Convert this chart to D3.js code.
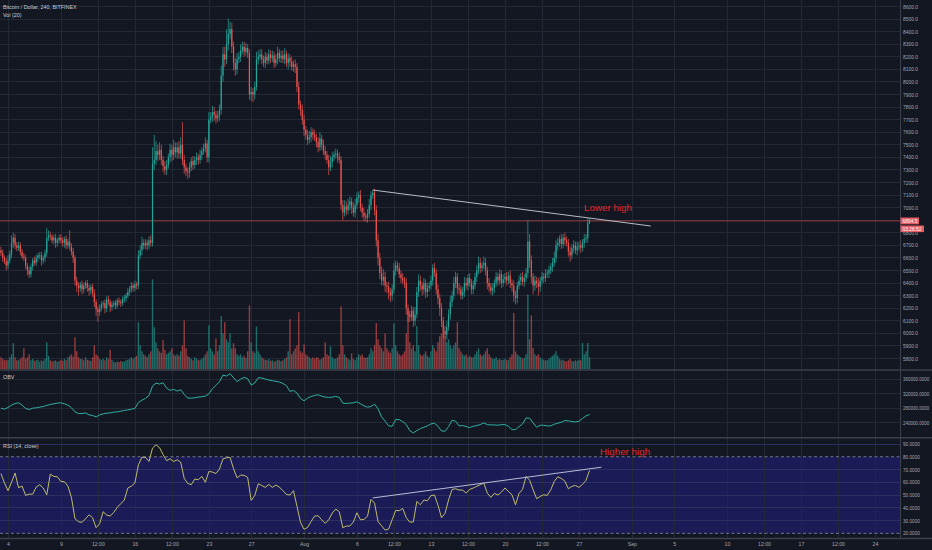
<!DOCTYPE html>
<html>
<head>
<meta charset="utf-8">
<script src="https://cdn.jsdelivr.net/npm/d3@7"></script>
<style>
  body { margin: 0; background: #131722; }
  svg { display: block; font-family: "Liberation Sans", Arial, sans-serif; }
</style>
</head>
<body>
<div id="chart"></div>
<script>
// ---- data ----
// 4h candles, first one is Jul 3 08:00 UTC, open of each candle = previous close
var firstOpen = 6660;
var closes = [
  6640, 6600, 6570, 6540,                 // Jul 3 (08:00-20:00)
  6580, 6630, 6720, 6760, 6700, 6680,     // Jul 4
  6700, 6650, 6610, 6600, 6540, 6500,     // Jul 5
  6470, 6530, 6580, 6560, 6600, 6620,     // Jul 6
  6620, 6580, 6600, 6640, 6760, 6780,     // Jul 7
  6770, 6740, 6760, 6720, 6740, 6760,     // Jul 8
  6740, 6720, 6750, 6700, 6730, 6690,     // Jul 9
  6650, 6600, 6420, 6380, 6360, 6390,     // Jul 10
  6350, 6380, 6400, 6360, 6340, 6370,     // Jul 11
  6320, 6250, 6190, 6170, 6200, 6230,     // Jul 12
  6240, 6200, 6270, 6250, 6210, 6230,     // Jul 13
  6240, 6220, 6260, 6250, 6240, 6270,     // Jul 14
  6280, 6300, 6330, 6350, 6380, 6360,     // Jul 15
  6390, 6380, 6620, 6660, 6720, 6700,     // Jul 16
  6720, 6700, 6740, 6720, 7350, 7380,     // Jul 17
  7450, 7420, 7460, 7380, 7330, 7300,     // Jul 18
  7340, 7400, 7460, 7420, 7480, 7440,     // Jul 19
  7480, 7430, 7500, 7380, 7320, 7290,     // Jul 20
  7280, 7320, 7370, 7340, 7380, 7400,     // Jul 21
  7380, 7420, 7450, 7470, 7510, 7400,     // Jul 22
  7700, 7720, 7760, 7740, 7710, 7730,     // Jul 23
  7780, 8050, 8220, 8180, 8300, 8380,     // Jul 24
  8420, 8280, 8150, 8100, 8180, 8200,     // Jul 25
  8250, 8280, 8240, 8270, 8230, 7900,     // Jul 26
  7920, 7900, 7960, 8180, 8200, 8220,     // Jul 27
  8180, 8150, 8200, 8170, 8220, 8190,     // Jul 28
  8210, 8150, 8180, 8230, 8190, 8210,     // Jul 29
  8180, 8220, 8150, 8190, 8160, 8120,     // Jul 30
  8140, 8120, 7960, 7820, 7780, 7700,     // Jul 31
  7620, 7580, 7540, 7560, 7600, 7580,     // Aug 1
  7560, 7520, 7480, 7550, 7500, 7450,     // Aug 2
  7420, 7380, 7320, 7360, 7400, 7420,     // Aug 3
  7430, 7400, 7380, 7020, 6960, 7010,     // Aug 4
  6980, 7020, 7050, 7000, 6960, 7020,     // Aug 5
  7080, 7100, 7000, 6960, 6930, 6920,     // Aug 6
  6950, 7020, 7100, 7120, 6980, 6740,     // Aug 7
  6600, 6480, 6420, 6450, 6380, 6370,     // Aug 8
  6330, 6300, 6350, 6500, 6540, 6520,     // Aug 9
  6470, 6440, 6420, 6400, 6200, 6150,     // Aug 10
  6130, 6180, 6100, 6150, 6330, 6420,     // Aug 11
  6380, 6350, 6400, 6330, 6360, 6380,     // Aug 12
  6420, 6520, 6480, 6350, 6280, 6200,     // Aug 13
  6100, 6020, 5990, 6050, 6150, 6250,     // Aug 14
  6300, 6400, 6450, 6360, 6350, 6300,     // Aug 15
  6330, 6400, 6380, 6440, 6400, 6350,     // Aug 16
  6380, 6450, 6500, 6560, 6520, 6540,     // Aug 17
  6560, 6500, 6400, 6370, 6340, 6360,     // Aug 18
  6400, 6450, 6420, 6470, 6400, 6430,     // Aug 19
  6450, 6420, 6460, 6400, 6380, 6300,     // Aug 20
  6280, 6380, 6420, 6450, 6410, 6440,     // Aug 21
  6480, 6730, 6580, 6450, 6380, 6420,     // Aug 22
  6400, 6370, 6420, 6450, 6440, 6470,     // Aug 23
  6480, 6500, 6530, 6560, 6600, 6700,     // Aug 24
  6720, 6750, 6710, 6760, 6740, 6720,     // Aug 25
  6650, 6620, 6680, 6700, 6660, 6690,     // Aug 26
  6700, 6680, 6720, 6750, 6760, 6880,     // Aug 27
  6894.5                                  // Aug 28 00:00
];
// wick lengths above the body / below the body (price units)
var wickUp = [
  30, 25, 20, 30,
  40, 30, 60, 40, 30, 25,   30, 25, 20, 30, 25, 20,   30, 25, 20, 30, 25, 20,
  25, 30, 20, 25, 80, 40,   30, 20, 25, 30, 20, 25,   30, 25, 20, 30, 25, 90,
  25, 30, 20, 30, 25, 20,   30, 25, 20, 25, 30, 20,   25, 30, 20, 25, 30, 25,
  20, 30, 25, 30, 20, 25,   20, 25, 20, 25, 20, 25,   25, 20, 30, 25, 30, 20,
  30, 20, 40, 40, 50, 30,   30, 25, 30, 40, 130, 200, 80, 50, 60, 40, 30, 40,
  40, 30, 50, 40, 60, 40,   40, 50, 60, 180, 40, 30,  30, 40, 30, 40, 30, 40,
  30, 40, 30, 40, 50, 30,   60, 40, 50, 40, 30, 40,   40, 80, 60, 60, 120, 125,
  60, 50, 40, 40, 50, 40,   50, 40, 40, 40, 30, 30,   40, 30, 40, 60, 50, 40,
  40, 30, 40, 30, 40, 30,   40, 30, 40, 50, 30, 40,   40, 50, 30, 40, 30, 40,
  30, 40, 30, 40, 30, 40,   40, 30, 40, 50, 40, 30,   40, 30, 40, 50, 30, 40,
  40, 30, 40, 50, 40, 30,   40, 30, 40, 30, 40, 50,   40, 50, 40, 30, 40, 50,
  40, 30, 40, 30, 40, 30,   40, 50, 30, 20, 30, 40,   50, 40, 50, 60, 40, 30,
  40, 30, 40, 60, 40, 30,   40, 30, 40, 30, 40, 30,   30, 40, 30, 60, 40, 50,
  40, 30, 40, 30, 40, 30,   40, 30, 40, 30, 40, 30,   40, 30, 40, 50, 40, 50,
  40, 50, 40, 30, 40, 30,   40, 50, 40, 30, 40, 30,   40, 30, 40, 50, 40, 30,
  50, 40, 30, 40, 30, 40,   30, 40, 30, 40, 30, 40,   30, 40, 30, 40, 30, 40,
  40, 30, 40, 30, 40, 30,   40, 170, 60, 40, 30, 40,  30, 40, 30, 40, 30, 40,
  30, 40, 30, 40, 50, 40,   40, 30, 40, 30, 40, 30,   30, 40, 30, 40, 30, 40,
  30, 40, 30, 40, 30, 35,
  20
];
var wickDn = [
  25, 30, 20, 40,
  30, 25, 30, 40, 30, 25,   25, 30, 20, 25, 30, 40,   30, 25, 30, 20, 25, 30,
  30, 40, 25, 30, 30, 25,   30, 25, 30, 40, 30, 25,   25, 30, 40, 30, 25, 30,
  30, 40, 40, 50, 60, 30,   40, 30, 25, 30, 40, 30,   30, 40, 50, 80, 30, 25,
  30, 40, 30, 25, 40, 30,   25, 30, 20, 25, 30, 20,   25, 30, 20, 30, 25, 30,
  25, 30, 30, 30, 40, 30,   30, 40, 30, 30, 30, 50,   40, 50, 40, 40, 50, 40,
  40, 30, 40, 50, 40, 40,   50, 40, 40, 40, 50, 40,   50, 40, 30, 40, 30, 40,
  40, 30, 40, 30, 30, 40,   40, 30, 40, 50, 40, 30,   40, 40, 50, 60, 40, 50,
  40, 50, 60, 50, 40, 30,   40, 30, 40, 30, 40, 40,   50, 60, 40, 30, 40, 30,
  40, 30, 40, 30, 30, 40,   30, 40, 30, 40, 30, 40,   30, 40, 30, 50, 40, 30,
  40, 50, 40, 40, 50, 40,   50, 40, 40, 30, 40, 40,   30, 40, 40, 30, 40, 30,
  40, 30, 60, 30, 40, 30,   30, 40, 30, 40, 60, 30,   40, 30, 40, 50, 30, 40,
  30, 40, 30, 40, 40, 30,   40, 30, 40, 30, 40, 50,   60, 50, 40, 40, 50, 50,
  60, 50, 40, 30, 40, 30,   30, 40, 30, 40, 50, 60,   40, 30, 50, 40, 30, 40,
  40, 50, 40, 50, 40, 30,   30, 40, 30, 40, 50, 60,   50, 60, 30, 40, 30, 40,
  40, 30, 40, 50, 40, 30,   30, 40, 30, 40, 30, 40,   40, 30, 40, 30, 40, 30,
  30, 40, 50, 40, 30, 40,   40, 30, 40, 30, 40, 30,   30, 40, 30, 40, 50, 50,
  50, 40, 30, 40, 30, 40,   30, 40, 60, 50, 70, 40,   40, 70, 40, 30, 40, 30,
  30, 40, 30, 40, 30, 40,   40, 30, 40, 30, 40, 30,   40, 50, 30, 40, 30, 40,
  30, 40, 30, 40, 30, 40,
  10
];
// volume per candle (thousand BTC)
var volumes = [
  4, 3.5, 3, 3.2,
  3, 4, 5, 8.7, 4, 3,          3, 3.5, 4, 7, 3.5, 4,        5, 3, 3.5, 2.8, 3, 3.2,
  2.5, 3, 2.8, 3.5, 9, 4.5,    3, 2.6, 2.8, 3, 2.5, 2.7,    3.2, 2.8, 3.5, 3, 4, 4.5,
  5, 4.2, 10.7, 6, 4, 3.5,     3.5, 3, 4, 3.2, 3, 2.8,      4, 8, 5, 4.5, 3.5, 3,
  3.5, 3, 4, 3.5, 6.5, 3.2,    2.5, 2.2, 2.6, 2.4, 2.8, 2.5, 2.6, 3, 3.2, 3.5, 4, 3.5,
  4, 4.5, 15.7, 8, 6, 5,       4.5, 4, 5, 6, 30, 14,        9, 7, 6, 5.5, 9.7, 6.5,
  5, 5.5, 6, 7, 5, 4.5,        5, 4.5, 6, 8, 16.3, 7,       4.5, 4, 3.5, 3, 4, 3.5,
  3, 3.2, 3.5, 4, 5, 6,        14.7, 7, 6, 5, 10.3, 6,      8, 17.7, 12, 15.7, 10, 9,
  12, 7, 8.7, 7, 5, 4.5,       5, 4, 4.5, 3.8, 6, 21.3,     9, 6, 5.5, 14.3, 6, 5,
  4, 3.5, 3.2, 3, 3.5, 2.8,    3, 2.5, 2.8, 3.2, 3, 2.7,    3, 3.5, 4, 6, 16.7, 5,
  6, 7, 8, 19, 6, 5.5,         8.3, 5, 4.5, 4, 3.5, 4,      3.5, 4, 3.8, 3.2, 3.5, 4,
  9, 5, 4.5, 7.7, 4, 3.5,      3.5, 4, 5, 21, 8, 5,         4, 3.5, 3, 5.3, 3.5, 3,
  4, 5, 4.5, 5, 4, 3.8,        4, 5, 7, 6, 8, 15.4,         10, 8, 7, 6, 12, 7,
  6, 5.5, 7, 15.3, 8, 6,       5, 4.5, 5, 6, 12, 18.7,      9, 7, 8, 6, 14.4, 8,
  5, 4.5, 5, 6, 4.5, 4,        6, 8, 7, 6, 9, 11,           12, 13, 11, 9, 10, 8,
  7, 8, 9, 15.7, 7, 6,         5, 4.5, 5, 4, 4.5, 4,        4, 5, 6, 7, 5, 4.5,
  5, 6, 7, 5, 4, 3.5,          3.5, 4, 3.2, 3.5, 3, 3.2,    3.5, 3, 3.2, 4, 5, 18.8,
  6, 5, 4.5, 4, 3.5, 3.8,      5, 25, 10, 18, 7, 5,         4.5, 5, 4, 3.5, 3.2, 3,
  3, 3.5, 4, 4.5, 5, 6,        4.5, 3.5, 3, 3.2, 2.8, 2.6,  3, 3.5, 2.8, 2.6, 3, 2.8,
  3.2, 3, 8.8, 5, 6, 8.8,
  4
];
// OBV, one reading every 8h from Jul 3 08:00
var obvValues = [
  279900, 277200, 281800, 288200, 292800, 294600, 288200, 279000, 276200, 279900,
  280800, 282700, 284500, 287300, 290000, 291900, 293700, 294600, 291900, 288200,
  280800, 269800, 265200, 265200, 267000, 261500, 259700, 256000, 261500, 264300,
  266100, 267000, 268900, 269800, 271600, 273500, 275300, 277200, 279000, 295500,
  302000, 306600, 314900, 340600, 348900, 346100, 349800, 335100, 328700, 331400,
  326800, 330500, 317600, 307500, 307500, 308400, 310300, 311200, 313000, 319500,
  333300, 342500, 352600, 371000, 368200, 374600, 363600, 352600, 359900, 364500,
  360800, 343400, 348900, 363600, 362700, 359900, 357200, 355300, 353500, 351600,
  348000, 341500, 325900, 328700, 321300, 306600, 300100, 307500, 312100, 314900,
  316700, 313000, 310300, 309300, 310300, 312100, 309300, 293700, 292800, 293700,
  294600, 297400, 291900, 286300, 282700, 284500, 290900, 278100, 256000, 244000,
  231200, 230200, 248600, 248600, 243100, 234800, 218300, 211900, 218300, 223800,
  227500, 231200, 236700, 238500, 230200, 217400, 216500, 229300, 246800, 244000,
  231200, 232100, 229300, 226600, 230200, 232100, 234800, 239400, 234800, 233900,
  233900, 233000, 234800, 234800, 230200, 221100, 221100, 229300, 236700, 253200,
  252300, 239400, 227500, 233000, 233000, 231200, 231200, 235800, 238500, 241300,
  245900, 245000, 243100, 242200, 244000, 251400, 258800, 262400
];
// RSI(14), one reading every 8h from Jul 3 08:00
var rsiValues = [
  66.9, 59.4, 53.4, 60.0, 67.2, 55.7, 57.0, 49.7, 50.7, 50.7,
  56.2, 58.1, 55.5, 50.2, 66.4, 64.6, 64.3, 60.7, 60.4, 57.0,
  48.1, 31.4, 29.1, 28.6, 31.4, 34.5, 32.2, 24.4, 27.5, 36.9,
  34.3, 33.5, 36.4, 40.3, 43.2, 46.1, 55.5, 57.0, 59.4, 73.7,
  79.7, 79.5, 76.3, 86.8, 89.4, 87.1, 81.8, 76.9, 78.4, 76.3,
  77.6, 75.8, 63.0, 59.1, 58.1, 62.5, 62.0, 64.6, 60.0, 68.5,
  68.0, 66.9, 70.3, 78.4, 79.2, 79.5, 70.6, 63.5, 65.6, 65.4,
  63.8, 45.8, 49.5, 58.8, 57.5, 56.0, 58.3, 56.0, 57.8, 56.2,
  53.4, 50.5, 50.0, 53.4, 41.1, 28.6, 23.1, 24.6, 29.3, 33.5,
  33.8, 30.6, 27.8, 30.6, 35.9, 39.0, 36.9, 24.4, 25.7, 25.7,
  28.8, 36.1, 30.6, 30.9, 33.3, 46.6, 43.7, 29.1, 25.9, 22.5,
  23.3, 30.6, 38.0, 37.7, 39.5, 32.2, 28.8, 28.8, 45.0, 42.4,
  46.1, 45.5, 49.5, 50.0, 42.1, 32.2, 35.6, 46.1, 54.4, 54.9,
  53.9, 53.9, 51.5, 54.4, 55.5, 56.8, 58.1, 59.4, 51.5, 48.1,
  51.3, 50.0, 52.3, 55.5, 52.8, 50.2, 42.4, 51.3, 54.4, 64.6,
  61.5, 54.1, 47.1, 48.9, 50.2, 49.7, 54.1, 60.7, 64.3, 63.0,
  60.9, 54.9, 56.8, 57.5, 56.0, 58.3, 61.5, 69.3
];
// drawn trend lines
var priceTrendDates = ["2018-08-07T12:00:00Z", "2018-09-02T19:00:00Z"];
var priceTrendValues = [7140, 6854];
var rsiTrendDates = ["2018-08-07T12:00:00Z", "2018-08-29T03:00:00Z"];
var rsiTrendValues = [47.7, 71.8];

// axes
var timeTicks = ["2018-07-04", "2018-07-09", "2018-07-12T12:00", "2018-07-16", "2018-07-19T12:00",
  "2018-07-23", "2018-07-27", "2018-08-01", "2018-08-06", "2018-08-09T12:00", "2018-08-13",
  "2018-08-16T12:00", "2018-08-20", "2018-08-23T12:00", "2018-08-27", "2018-09-01", "2018-09-05",
  "2018-09-10", "2018-09-13T12:00", "2018-09-17", "2018-09-20T12:00", "2018-09-24"];
var timeLabels = ["4", "9", "12:00", "16", "12:00", "23", "27", "Aug", "6", "12:00", "13",
  "12:00", "20", "12:00", "27", "Sep", "5", "10", "12:00", "17", "12:00", "24"];
var priceTicks = [5800, 5900, 6000, 6100, 6200, 6300, 6400, 6500, 6600, 6700, 6800, 6900, 7000,
  7100, 7200, 7300, 7400, 7500, 7600, 7700, 7800, 7900, 8000, 8100, 8200, 8300, 8400, 8500, 8600];
var obvTicks = [240000, 280000, 320000, 360000];
var rsiTicks = [20, 30, 40, 50, 60, 70, 80, 90];
var lastPrice = 6894.5;
var countdown = "03:26:52";

// ---- layout ----
var W = 932, H = 550, axisX = 900;
var bg = "#131722", grid = "#232835", sep = "#3c404b", axisText = "#a3a6af";
var up = "#26a69a", down = "#ef5350";

var svg = d3.select("#chart").append("svg")
    .attr("width", W)
    .attr("height", H);
svg.append("rect").attr("width", W).attr("height", H).attr("fill", bg);

var parseT = function (s) { return new Date(s.length > 10 ? s + (s.length === 16 ? ":00Z" : "") : s + "T00:00:00Z"); };
var tickDates = timeTicks.map(parseT);

// time scale, price/volume/obv/rsi scales
var x = d3.scaleUtc()
    .domain([new Date(Date.UTC(2018, 6, 4)), new Date(Date.UTC(2018, 8, 24))])
    .range([8, 875]);
var yPrice = d3.scaleLinear().domain([5800, 8600]).range([358.5, 6.5]);
var yVol = d3.scaleLinear().domain([0, 30]).range([369.3, 279.3]);
var yObv = d3.scaleLinear().domain([240000, 360000]).range([422.7, 379]);
var yRsi = d3.scaleLinear().domain([20, 90]).range([533.3, 444]);

var t0 = Date.UTC(2018, 6, 3, 8);
var H4 = 4 * 3600 * 1000, H8 = 8 * 3600 * 1000;
var candles = closes.map(function (c, i) {
  var o = i === 0 ? firstOpen : closes[i - 1];
  return {
    t: new Date(t0 + i * H4), o: o, c: c,
    h: Math.max(o, c) + wickUp[i], l: Math.min(o, c) - wickDn[i], v: volumes[i]
  };
});
var obv = obvValues.map(function (v, j) { return { t: new Date(t0 + j * H8), v: v }; });
var rsi = rsiValues.map(function (v, j) { return { t: new Date(t0 + j * H8), v: v }; });

// clip regions for the three panes
var defs = svg.append("defs");
[["clipMain", 0, 0, axisX, 369.5], ["clipObv", 0, 371, axisX, 66], ["clipRsi", 0, 439, axisX, 99]]
  .forEach(function (c) {
    defs.append("clipPath").attr("id", c[0]).append("rect")
      .attr("x", c[1]).attr("y", c[2]).attr("width", c[3]).attr("height", c[4]);
  });

// RSI band between 20 and 80
svg.append("rect")
    .attr("x", 0).attr("width", axisX)
    .attr("y", yRsi(80)).attr("height", yRsi(20) - yRsi(80))
    .attr("fill", "#1b1c57");

// grids
var gGrid = svg.append("g").attr("stroke", grid).attr("stroke-width", 1).attr("shape-rendering", "crispEdges");
gGrid.selectAll(".vg").data(tickDates).enter().append("line")
    .attr("x1", function (d) { return Math.round(x(d)) + 0.5; })
    .attr("x2", function (d) { return Math.round(x(d)) + 0.5; })
    .attr("y1", 0).attr("y2", 538);
gGrid.selectAll(".pg").data(priceTicks).enter().append("line")
    .attr("x1", 0).attr("x2", axisX)
    .attr("y1", function (d) { return yPrice(d); }).attr("y2", function (d) { return yPrice(d); });
gGrid.selectAll(".og").data(obvTicks).enter().append("line")
    .attr("x1", 0).attr("x2", axisX)
    .attr("y1", function (d) { return yObv(d); }).attr("y2", function (d) { return yObv(d); });
gGrid.selectAll(".rg").data(rsiTicks.filter(function (d) { return d !== 20 && d !== 80; })).enter().append("line")
    .attr("x1", 0).attr("x2", axisX)
    .attr("stroke", "#2c2f60")
    .attr("y1", function (d) { return yRsi(d); }).attr("y2", function (d) { return yRsi(d); });

// RSI 80 / 20 dashed bounds
svg.selectAll(".rb").data([80, 20]).enter().append("line")
    .attr("x1", 0).attr("x2", axisX)
    .attr("y1", function (d) { return yRsi(d); }).attr("y2", function (d) { return yRsi(d); })
    .attr("stroke", "#8a8da0").attr("stroke-width", 0.8).attr("stroke-dasharray", "3,2.5");

// ---- main pane ----
var main = svg.append("g").attr("clip-path", "url(#clipMain)");

// volume
main.selectAll(".vol").data(candles).enter().append("rect")
    .attr("x", function (d) { return x(d.t) - 0.7; })
    .attr("width", 1.4)
    .attr("y", function (d) { return yVol(d.v); })
    .attr("height", function (d) { return yVol(0) - yVol(d.v); })
    .attr("fill", function (d) { return d.c >= d.o ? up : down; })
    .attr("opacity", 0.6);

// last price line
main.append("line")
    .attr("x1", 0).attr("x2", axisX)
    .attr("y1", yPrice(lastPrice)).attr("y2", yPrice(lastPrice))
    .attr("stroke", down).attr("stroke-width", 1).attr("opacity", 0.55);

// candles
main.selectAll(".wick").data(candles).enter().append("line")
    .attr("x1", function (d) { return x(d.t); })
    .attr("x2", function (d) { return x(d.t); })
    .attr("y1", function (d) { return yPrice(d.h); })
    .attr("y2", function (d) { return yPrice(d.l); })
    .attr("stroke", function (d) { return d.c >= d.o ? up : down; })
    .attr("stroke-width", 0.7);
main.selectAll(".body").data(candles).enter().append("rect")
    .attr("x", function (d) { return x(d.t) - 0.6; })
    .attr("width", 1.2)
    .attr("y", function (d) { return yPrice(Math.max(d.o, d.c)); })
    .attr("height", function (d) { return Math.max(0.8, Math.abs(yPrice(d.o) - yPrice(d.c))); })
    .attr("fill", function (d) { return d.c >= d.o ? up : down; });

// price trend line
main.append("line")
    .attr("x1", x(parseT(priceTrendDates[0]))).attr("y1", yPrice(priceTrendValues[0]))
    .attr("x2", x(parseT(priceTrendDates[1]))).attr("y2", yPrice(priceTrendValues[1]))
    .attr("stroke", "#b9bcc6").attr("stroke-width", 1);

main.append("text")
    .attr("x", 584).attr("y", 211)
    .attr("fill", "#e0282e").attr("font-size", 9.8)
    .text("Lower high");

// ---- OBV pane ----
svg.append("g").attr("clip-path", "url(#clipObv)")
  .append("path")
    .datum(obv)
    .attr("fill", "none")
    .attr("stroke", "#2fb0a5")
    .attr("stroke-width", 1)
    .attr("d", d3.line().x(function (d) { return x(d.t); }).y(function (d) { return yObv(d.v); }));

// ---- RSI pane ----
var rsiG = svg.append("g").attr("clip-path", "url(#clipRsi)");
rsiG.append("path")
    .datum(rsi)
    .attr("fill", "none")
    .attr("stroke", "#cfcd6c")
    .attr("stroke-width", 0.9)
    .attr("d", d3.line().x(function (d) { return x(d.t); }).y(function (d) { return yRsi(d.v); }));
rsiG.append("line")
    .attr("x1", x(parseT(rsiTrendDates[0]))).attr("y1", yRsi(rsiTrendValues[0]))
    .attr("x2", x(parseT(rsiTrendDates[1]))).attr("y2", yRsi(rsiTrendValues[1]))
    .attr("stroke", "#b9bcd6").attr("stroke-width", 1);
svg.append("text")
    .attr("x", 600).attr("y", 455)
    .attr("fill", "#e0282e").attr("font-size", 9.8)
    .text("Higher high");

// ---- pane separators ----
var sepG = svg.append("g").attr("stroke", sep).attr("stroke-width", 1.5);
[370, 437.8, 538.5].forEach(function (yy) {
  sepG.append("line").attr("x1", 0).attr("x2", W).attr("y1", yy).attr("y2", yy);
});
sepG.append("line").attr("x1", axisX + 0.5).attr("x2", axisX + 0.5)
    .attr("y1", 0).attr("y2", 538.5).attr("stroke-width", 1);

// ---- axes ----
function styleAxis(size) {
  return function (g) {
    g.select(".domain").remove();
    g.selectAll("text").attr("fill", axisText).attr("font-size", size)
      .attr("font-family", "Liberation Sans, Arial, sans-serif");
  };
}
svg.append("g")
    .attr("transform", "translate(" + axisX + ",0)")
    .call(d3.axisRight(yPrice).tickValues(priceTicks).tickSize(0).tickPadding(3).tickFormat(d3.format(".1f")))
    .call(styleAxis(4.9));
svg.append("g")
    .attr("transform", "translate(" + axisX + ",0)")
    .call(d3.axisRight(yObv).tickValues(obvTicks).tickSize(0).tickPadding(3).tickFormat(d3.format(".4f")))
    .call(styleAxis(4.5));
svg.append("g")
    .attr("transform", "translate(" + axisX + ",0)")
    .call(d3.axisRight(yRsi).tickValues(rsiTicks).tickSize(0).tickPadding(3).tickFormat(d3.format(".4f")))
    .call(styleAxis(4.7));
svg.append("g")
    .attr("transform", "translate(0,538.5)")
    .call(d3.axisBottom(x).tickValues(tickDates).tickSize(0).tickPadding(4)
      .tickFormat(function (d, i) { return timeLabels[i]; }))
    .call(styleAxis(5.2));

// last price tag + countdown on the price scale
var tagY = yPrice(lastPrice);
svg.append("rect").attr("x", axisX + 0.5).attr("y", tagY - 3.4).attr("width", 18.5).attr("height", 6.8)
    .attr("fill", "#e45d63");
svg.append("text").attr("x", axisX + 2.5).attr("y", tagY + 1.8)
    .attr("fill", "#ffffff").attr("font-size", 4.9).text(d3.format(".1f")(lastPrice));
svg.append("rect").attr("x", axisX + 0.5).attr("y", tagY + 4.6).attr("width", 23.5).attr("height", 6.6)
    .attr("fill", "#e45d63");
svg.append("text").attr("x", axisX + 2.5).attr("y", tagY + 9.7)
    .attr("fill", "#ffffff").attr("font-size", 4.9).text(countdown);

// ---- pane titles ----
var titles = [
  ["Bitcoin / Dollar, 240, BITFINEX", 9],
  ["Vol (20)", 17],
  ["OBV", 379],
  ["RSI (14, close)", 447.5]
];
svg.selectAll(".title").data(titles).enter().append("text")
    .attr("x", 3)
    .attr("y", function (d) { return d[1]; })
    .attr("fill", "#c9ccd4")
    .attr("font-size", 5.4)
    .text(function (d) { return d[0]; });
</script>
</body>
</html>
